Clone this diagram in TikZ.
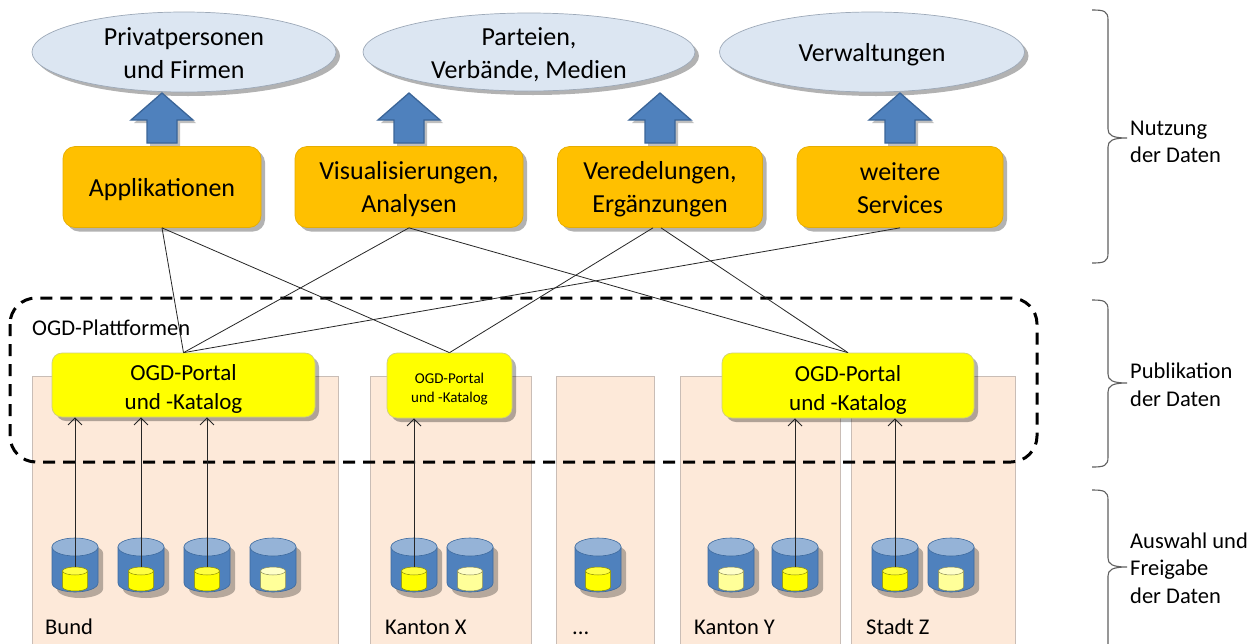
\documentclass[tikz,border=0pt]{standalone}
\usepackage{fontspec}
\setmainfont{Carlito}
\usetikzlibrary{shapes.geometric,shadows,arrows.meta}
\definecolor{ellfill}{HTML}{DCE6F2}
\definecolor{ellline}{HTML}{9DA9B8}
\definecolor{orangebox}{HTML}{FFC000}
\definecolor{orangeline}{HTML}{E6AD00}
\definecolor{portalfill}{HTML}{FFFF00}
\definecolor{portalline}{HTML}{CFCF7A}
\definecolor{colfill}{HTML}{FDE9D9}
\definecolor{colline}{HTML}{C9BDB6}
\definecolor{arrblue}{HTML}{4F81BD}
\definecolor{arrline}{HTML}{3B6598}
\definecolor{cylbody}{HTML}{4F81BD}
\definecolor{cyltop}{HTML}{95B3D7}
\definecolor{cylline}{HTML}{3D6A9E}
\definecolor{yelbody}{HTML}{FFFF00}
\definecolor{yeltop}{HTML}{FFFF40}
\definecolor{palebody}{HTML}{FFFF99}
\definecolor{paletop}{HTML}{FFFFC8}
\definecolor{braceline}{HTML}{606060}

\newcommand\dbcyl[3]{%
  \begin{scope}[shift={(5,6)}]
    \fill[black,opacity=0.28] ({#1-23},547) -- ({#1-23},583) arc[start angle=180,end angle=0,x radius=23,y radius=9] -- ({#1+23},547) arc[start angle=0,end angle=-180,x radius=23,y radius=9] -- cycle;
  \end{scope}
  \filldraw[fill=cylbody,draw=cylline,line width=0.6pt] ({#1-23},547) -- ({#1-23},583) arc[start angle=180,end angle=0,x radius=23,y radius=9] -- ({#1+23},547) -- cycle;
  \filldraw[fill=cyltop,draw=cylline,line width=0.6pt] (#1,547) ellipse[x radius=23,y radius=9];
  \filldraw[fill=#2body,draw=#2body!55!black,line width=0.5pt] ({#1-12.5},571) -- ({#1-12.5},587) arc[start angle=180,end angle=0,x radius=12.5,y radius=4] -- ({#1+12.5},571) -- cycle;
  \filldraw[fill=#2top,draw=#2body!55!black,line width=0.5pt] (#1,571) ellipse[x radius=12.5,y radius=4];
  \coordinate (#3) at (#1,567);
}

\newcommand\sidebrace[3]{%
  \draw[bracestyle] (1092,#1) .. controls (1104,#1) and (1108,{#1+1}) .. (1108,{#1+10}) -- (1108,{#2-9}) .. controls (1108,{#2-3}) and (1112,#2) .. (1127,#2) .. controls (1112,#2) and (1108,{#2+3}) .. (1108,{#2+9}) -- (1108,{#3-10}) .. controls (1108,{#3-1}) and (1104,#3) .. (1092,#3);
}

\begin{document}
\begin{tikzpicture}[x=1pt,y=-1pt,
  shad/.style={drop shadow={shadow xshift=4pt,shadow yshift=-4pt,fill=black,opacity=0.3}},
  ellnode/.style={ellipse,fill=ellfill,draw=ellline,line width=0.7pt,inner sep=0pt,shad},
  bigtext/.style={font=\fontsize{26}{33}\selectfont,align=center,inner sep=0pt},
  midtext/.style={font=\fontsize{23}{29}\selectfont,align=center,inner sep=0pt},
  smalltext/.style={font=\fontsize{15}{19}\selectfont,align=center,inner sep=0pt},
  topbox/.style={rectangle,rounded corners=12pt,fill=orangebox,draw=orangeline,line width=0.7pt,inner sep=0pt,shad},
  portal/.style={rectangle,rounded corners=10pt,fill=portalfill,draw=portalline,line width=0.7pt,inner sep=0pt,shad},
  column/.style={fill=colfill,draw=colline,line width=0.6pt},
  collabel/.style={anchor=base west,inner sep=0pt,font=\fontsize{22.5}{28}\selectfont},
  sidelabel/.style={anchor=west,inner sep=0pt,align=left,font=\fontsize{22.5}{27.5}\selectfont},
  conn/.style={draw=black!85,line width=0.8pt},
  uparr/.style={draw=black!85,line width=0.9pt,-{Straight Barb[length=7pt,width=14pt,line width=0.9pt]}},
  platform/.style={draw=black,line width=3pt,dash pattern=on 12pt off 8pt,rounded corners=26pt},
  bracestyle/.style={draw=braceline,line width=1.1pt},
  uparrow/.pic={\filldraw[fill=arrblue,draw=arrline,line width=1.3pt,drop shadow={shadow xshift=3pt,shadow yshift=-3pt,fill=black,opacity=0.25}] (0,0) -- (31,27) -- (15,27) -- (15,50) -- (-15,50) -- (-15,27) -- (-31,27) -- cycle;}
]
\useasboundingbox[fill=white] (0,0) rectangle (1252,643);

% columns
\filldraw[column] (32,376) rectangle (338,660);
\filldraw[column] (370,376) rectangle (531,660);
\filldraw[column] (556,376) rectangle (654,660);
\filldraw[column] (680,376) rectangle (840,660);
\filldraw[column] (851,376) rectangle (1015,660);

% platform frame
\draw[platform] (10,298) rectangle (1037,462);
\node[anchor=base west,inner sep=0pt,font=\fontsize{22.5}{28}\selectfont] (plat) at (32,335) {OGD-Plattformen};

% ellipses
\node[ellnode,minimum width=304pt,minimum height=80pt,label={[bigtext,yshift=-1pt]center:Privatpersonen\\und Firmen}] (e1) at (184,52) {};
\node[ellnode,minimum width=332pt,minimum height=78pt,label={[bigtext,yshift=-2.5pt]center:Parteien,\\Verbände, Medien}] (e2) at (529,52) {};
\node[ellnode,minimum width=305pt,minimum height=80pt,label={[bigtext,yshift=-3pt]center:Verwaltungen}] (e3) at (872,52) {};

% block arrows
\pic at (162,93) {uparrow};
\pic at (409,93) {uparrow};
\pic at (660,93) {uparrow};
\pic at (900,93) {uparrow};

% top boxes
\node[topbox,minimum width=198pt,minimum height=81pt,label={[bigtext,yshift=-3pt]center:Applikationen}] (b1) at (162,187) {};
\node[topbox,minimum width=228pt,minimum height=81pt,label={[bigtext,yshift=-2.5pt]center:Visualisierungen,\\Analysen}] (b2) at (409,187) {};
\node[topbox,minimum width=205pt,minimum height=81pt,label={[bigtext,yshift=-2.5pt]center:Veredelungen,\\Ergänzungen}] (b3) at (660,187) {};
\node[topbox,minimum width=206pt,minimum height=81pt,label={[bigtext,yshift=-1.5pt]center:weitere\\Services}] (b4) at (900,187) {};

% portals
\node[portal,minimum width=263pt,minimum height=64pt,label={[midtext,yshift=-4pt]center:OGD-Portal\\und -Katalog}] (p1) at (183.5,385) {};
\node[portal,minimum width=125pt,minimum height=65pt,label={[smalltext,yshift=-4pt]center:OGD-Portal\\und -Katalog}] (p2) at (449.5,385.5) {};
\node[portal,minimum width=252pt,minimum height=65pt,label={[midtext,yshift=-4pt]center:OGD-Portal\\und -Katalog}] (p3) at (848,385.5) {};

% connectors between services and portals
\draw[conn] (b1.south) -- (p1.north);
\draw[conn] (b1.south) -- (p2.north);
\draw[conn] (b2.south) -- (p1.north);
\draw[conn] (b2.south) -- (p3.north);
\draw[conn] ([xshift=-7pt]b3.south) -- (p2.north);
\draw[conn] ([xshift=1pt]b3.south) -- (p3.north);
\draw[conn] (b4.south) -- (p1.north);

% databases
\dbcyl{75}{yel}{cB1}
\dbcyl{141}{yel}{cB2}
\dbcyl{207}{yel}{cB3}
\dbcyl{273}{pale}{cB4}
\dbcyl{414}{yel}{cX1}
\dbcyl{470}{pale}{cX2}
\dbcyl{598}{yel}{cD1}
\dbcyl{731}{pale}{cY1}
\dbcyl{795}{yel}{cY2}
\dbcyl{895}{yel}{cZ1}
\dbcyl{951}{pale}{cZ2}

% upload arrows
\draw[uparr] (cB1) -- (cB1 |- p1.south);
\draw[uparr] (cB2) -- (cB2 |- p1.south);
\draw[uparr] (cB3) -- (cB3 |- p1.south);
\draw[uparr] (cX1) -- (cX1 |- p2.south);
\draw[uparr] (cY2) -- (cY2 |- p3.south);
\draw[uparr] (cZ1) -- (cZ1 |- p3.south);

% column labels
\node[collabel] (lB) at (45,634) {Bund};
\node[collabel] (lX) at (385,634) {Kanton X};
\node[collabel] (lD) at (572,634) {...};
\node[collabel] (lY) at (694,634) {Kanton Y};
\node[collabel] (lZ) at (866,634) {Stadt Z};

% braces
\sidebrace{10}{138}{263}
\sidebrace{300}{383}{467}
\sidebrace{490}{567}{656}
\node[sidelabel] (s1) at (1130,142) {Nutzung\\der Daten};
\node[sidelabel] (s2) at (1130,385) {Publikation\\der Daten};
\node[sidelabel] (s3) at (1130,568) {Auswahl und\\Freigabe\\der Daten};
\end{tikzpicture}
\end{document}
